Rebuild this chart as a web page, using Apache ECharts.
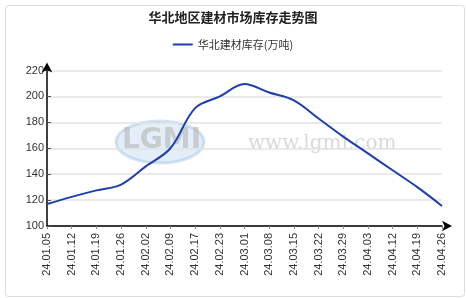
<!DOCTYPE html>
<html><head><meta charset="utf-8">
<script src="https://cdn.jsdelivr.net/npm/echarts@6/dist/echarts.min.js"></script>
<style>html,body{margin:0;padding:0;background:#fff}#c{width:466px;height:298px}</style>
</head><body><div id="c"></div>
<script>
const categories = ['24.01.05','24.01.12','24.01.19','24.01.26','24.02.02','24.02.09','24.02.17','24.02.23','24.03.01','24.03.08','24.03.15','24.03.22','24.03.29','24.04.03','24.04.12','24.04.19','24.04.26'];
const values = [117, 122.5, 127.5, 132, 146, 160, 191, 200, 209.5, 203, 197, 183, 169, 156, 143, 130, 115.5];
const yTicks = [100, 120, 140, 160, 180, 200, 220];
const seriesName = '华北建材库存(万吨)';
const titleText = '华北地区建材市场库存走势图';

const chart = echarts.init(document.getElementById('c'), null, {renderer:'canvas'});
chart.setOption({
  animation: false,
  backgroundColor: '#fff',
  title: {text: titleText, left: 'center', top: 6,
    textStyle: {fontSize: 13, fontWeight: 'bold', color: '#222', fontFamily: 'Noto Sans CJK SC'}},
  legend: {top: 34, left: 'center', itemWidth: 20, itemHeight: 2, itemGap: 6,
    icon: 'rect',
    textStyle: {fontSize: 11, color: '#333', fontFamily: 'Noto Sans CJK SC'},
    data: [seriesName]},
  graphic: [
    {type: 'rect', left: 3, top: 3, shape: {width: 459, height: 291, r: 3},
      style: {fill: 'none', stroke: '#ddd', lineWidth: 1}, z: -10},
    {type: 'ellipse', shape: {cx: 160, cy: 142, rx: 44, ry: 21},
      style: {fill: 'rgba(120,170,220,0.2)', stroke: 'rgba(120,170,220,0.3)', lineWidth: 3}, z: -5},
    {type: 'text', left: 122, top: 127,
      style: {text: 'LGMI', font: 'bold 28px "DejaVu Sans"', fill: 'rgba(170,170,170,0.5)'}, z: -4},
    {type: 'text', left: 248, top: 134,
      style: {text: 'www.lgmi.com', font: '20px "DejaVu Serif"', fill: 'rgba(180,180,180,0.5)'}, z: -4}
  ],
  grid: {left: 47, right: 24, top: 70.5, bottom: 72, containLabel: false},
  xAxis: {type: 'category', data: categories, boundaryGap: false,
    axisLine: {lineStyle: {color: '#000', width: 1.5}, symbol: ['none','arrow'], symbolSize: [8, 10], symbolOffset: [0, 10]},
    axisTick: {show: true, alignWithLabel: true, length: 3, lineStyle: {color: '#888'}},
    axisLabel: {rotate: 90, fontSize: 11, color: '#333', margin: 7, interval: 0, fontFamily: 'Liberation Sans'},
    splitLine: {show: false}},
  yAxis: {type: 'value', min: 100, max: 220, interval: 20,
    axisLine: {show: true, lineStyle: {color: '#000', width: 1.5}, symbol: ['none','arrow'], symbolSize: [8, 10], symbolOffset: [0, 8]},
    axisTick: {show: true, inside: true, length: 4, lineStyle: {color: '#555'}},
    axisLabel: {fontSize: 11, color: '#333', margin: 3, fontFamily: 'Liberation Sans',
      formatter: v => yTicks.includes(v) ? String(v) : ''},
    splitLine: {show: true, lineStyle: {color: '#e3e3e3', width: 1.5}}},
  series: [{name: seriesName, type: 'line', data: values, smooth: 0.35, showSymbol: false,
    lineStyle: {color: '#1c3fae', width: 2}, itemStyle: {color: '#1c3fae'}}]
});
</script></body></html>
